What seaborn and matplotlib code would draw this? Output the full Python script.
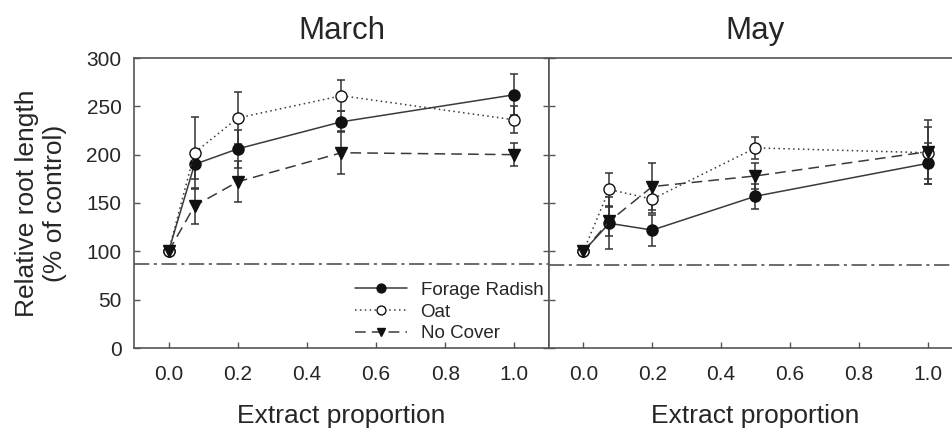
import matplotlib
matplotlib.use("Agg")
import matplotlib.pyplot as plt
from matplotlib.ticker import FormatStrFormatter
import seaborn as sns
import pandas as pd

# ---------------- data ----------------
proportions = [0.0, 0.075, 0.2, 0.5, 1.0]
treatments = ["Forage Radish", "Oat", "No Cover"]
months = ["March", "May"]

march_radish = [100, 190, 206, 234, 262]
march_radish_se = [0, 15, 20, 11, 21]
march_oat = [100, 202, 238, 261, 236]
march_oat_se = [0, 37, 27, 16, 14]
march_nocover = [100, 147, 172, 202, 200]
march_nocover_se = [0, 19, 21, 22, 12]

may_radish = [100, 129, 122, 157, 191]
may_radish_se = [0, 27, 16, 13, 21]
may_oat = [100, 164, 154, 207, 202]
may_oat_se = [0, 17, 14, 11, 27]
may_nocover = [100, 131, 167, 178, 203]
may_nocover_se = [0, 15, 24, 13, 33]

control_level = {"March": 87, "May": 85.5}

xticks = [0.0, 0.2, 0.4, 0.6, 0.8, 1.0]
yticks = [0, 50, 100, 150, 200, 250, 300]

values = {
    ("March", "Forage Radish"): (march_radish, march_radish_se),
    ("March", "Oat"): (march_oat, march_oat_se),
    ("March", "No Cover"): (march_nocover, march_nocover_se),
    ("May", "Forage Radish"): (may_radish, may_radish_se),
    ("May", "Oat"): (may_oat, may_oat_se),
    ("May", "No Cover"): (may_nocover, may_nocover_se),
}

rows = []
for (m, t), (vals, ses) in values.items():
    for p, v, s in zip(proportions, vals, ses):
        rows.append({"month": m, "treatment": t, "proportion": p, "value": v, "se": s})
df = pd.DataFrame(rows)

# ---------------- style ----------------
sns.set_style("ticks")
plt.rcParams["font.family"] = ["Liberation Sans", "DejaVu Sans"]

LINE = "#3a3a3a"
MARK = "#111111"
SPINE = "#555555"

styles = {
    "Forage Radish": dict(linestyle="-", marker="o", markerfacecolor=MARK),
    "Oat": dict(linestyle=(0, (1, 2.2)), marker="o", markerfacecolor="white"),
    "No Cover": dict(linestyle=(0, (7, 4)), marker="v", markerfacecolor=MARK),
}

fig = plt.figure(figsize=(9.53, 4.30), dpi=100)
ax1 = fig.add_axes([134 / 953, 82 / 430, 415 / 953, 290 / 430])
ax2 = fig.add_axes([549 / 953, 82 / 430, 413 / 953, 290 / 430])

handles = {}
for ax, month in zip([ax1, ax2], months):
    sub = df[df["month"] == month]
    ax.axhline(control_level[month], color="#444444", lw=1.1,
               linestyle=(0, (10, 3, 2, 3)), zorder=1)
    for t in treatments:
        d = sub[sub["treatment"] == t]
        ax.errorbar(d["proportion"], d["value"], yerr=d["se"], fmt="none",
                    ecolor="#333333", elinewidth=1.1, capsize=3.2, capthick=1.1,
                    zorder=2)
        sns.lineplot(data=d, x="proportion", y="value", ax=ax, color=LINE,
                     linewidth=1.1, markersize=8, markeredgecolor=MARK,
                     markeredgewidth=1.0, errorbar=None, zorder=3,
                     **styles[t])
        if month == "March":
            handles[t] = ax.lines[-1]

    ax.set_xlim(-0.1, 1.1)
    ax.set_ylim(0, 300)
    ax.set_xticks(xticks)
    ax.set_yticks(yticks)
    ax.xaxis.set_major_formatter(FormatStrFormatter("%.1f"))
    ax.set_xlabel("Extract proportion", fontsize=19, labelpad=15)
    ax.set_title(month, fontsize=22.5, pad=14)
    for s in ax.spines.values():
        s.set_color(SPINE)
        s.set_linewidth(1.2)
    ax.tick_params(direction="in", length=4, width=1.0, color=SPINE,
                   labelsize=15, pad=9)
    ax.tick_params(axis="x", pad=12)

ax1.set_ylabel("Relative root length\n(% of control)", fontsize=19, labelpad=14)
ax1.tick_params(axis="y", right=True)
ax2.set_ylabel("")
ax2.tick_params(axis="y", left=True, labelleft=False)
ax2.spines["right"].set_visible(False)

leg = ax1.legend(handles=[handles[t] for t in treatments], labels=treatments,
                 loc="lower right", bbox_to_anchor=(1.0, 0.0), frameon=False,
                 fontsize=13.5, handlelength=2.8, handletextpad=0.7,
                 labelspacing=0.25, borderaxespad=0.2, borderpad=0.1,
                 markerscale=0.8)

fig.savefig("out.png", dpi=100)
